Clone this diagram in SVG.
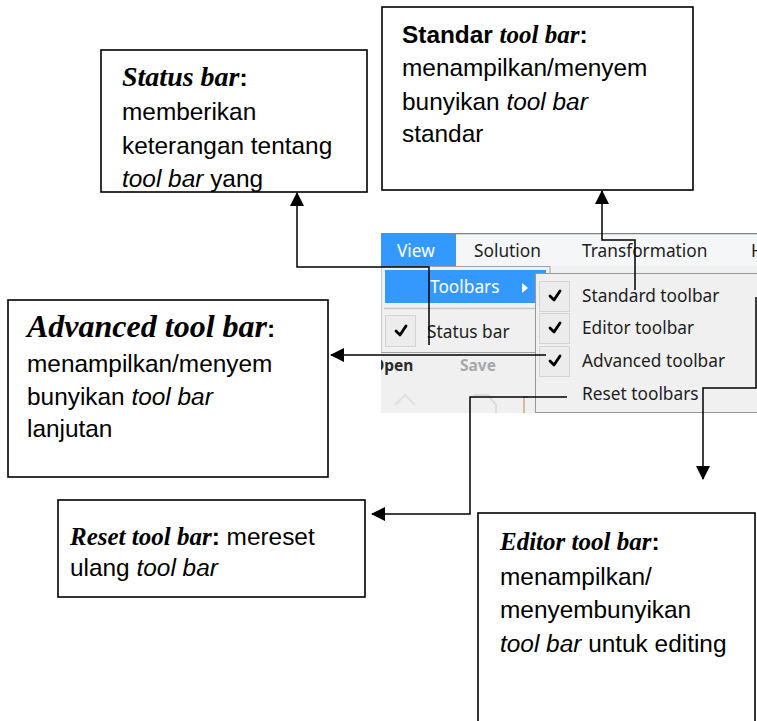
<svg xmlns="http://www.w3.org/2000/svg" width="757" height="721" viewBox="0 0 757 721">
<style>
.box{fill:#fff;stroke:#000;stroke-width:1.6}
.b{font-family:"Liberation Sans",Arial,sans-serif;font-size:24.4px;fill:#000}
.h{font-family:"Liberation Serif","Times New Roman",serif;font-weight:bold;font-style:italic}
.i{font-style:italic}
.bold{font-weight:bold}
.ui{font-family:"Noto Sans","Open Sans",sans-serif;font-size:17.3px;fill:#1e1e1e}
.chk{fill:#ececec;stroke:#d4d4d4;stroke-width:1}
.tick{fill:none;stroke:#000;stroke-width:2.8;stroke-linecap:round;stroke-linejoin:round}
.conn{fill:none;stroke:#000;stroke-width:1.5}
</style>
<defs>
<marker id="arr" viewBox="0 0 14 14" refX="13" refY="7" markerWidth="14" markerHeight="14" markerUnits="userSpaceOnUse" orient="auto">
<path d="M0,0 L14,7 L0,14 Z" fill="#000"/>
</marker>
<clipPath id="shot"><rect x="381" y="233" width="376" height="180"/></clipPath>
</defs>
<rect width="757" height="721" fill="#fff"/>

<g id="screenshot" clip-path="url(#shot)">
<rect x="381" y="233" width="376" height="180" fill="#f0f0f0"/>
<rect x="381" y="233" width="376" height="33" fill="#f5f6f7"/>
<line x1="381" y1="233.5" x2="757" y2="233.5" stroke="#7d8580" stroke-width="1.5"/>
<rect x="381" y="234" width="75" height="32" fill="#3399ff"/>
<text class="ui" x="397" y="257" style="fill:#fff">View</text>
<text class="ui" x="474" y="257">Solution</text>
<text class="ui" x="582" y="257">Transformation</text>
<text class="ui" x="751" y="257">H</text>
<rect x="381" y="266.5" width="169" height="86" fill="#f0f0f0" stroke="#a0a0a0" stroke-width="1"/>
<rect x="385" y="270" width="161" height="33" fill="#3399ff"/>
<text class="ui" x="430" y="293" style="fill:#fff">Toolbars</text>
<path d="M522,283 L528,288 L522,293 Z" fill="#fff"/>
<line x1="384" y1="308.5" x2="547" y2="308.5" stroke="#c8c8c8" stroke-width="1.5"/>
<rect class="chk" x="385.5" y="315.5" width="30" height="31"/>
<path class="tick" d="M396,331 L400,335 L406,326"/>
<text class="ui" x="427" y="338">Status bar</text>
<text class="ui" x="372" y="371" style="font-weight:bold;fill:#2a2a2a;font-size:15.5px">Open</text>
<text class="ui" x="460" y="371" style="font-weight:bold;fill:#a8a8a8;font-size:15.5px">Save</text>
<path d="M395,405 L405,395 L415,405" fill="none" stroke="#e0e0e0" stroke-width="2"/>
<path d="M473,395 L488,395 L496,405 L496,413" fill="none" stroke="#dcdcdc" stroke-width="2"/>
<path d="M528,397 L524,397 L524,413" fill="none" stroke="#d8b898" stroke-width="2"/>
<rect x="535.5" y="273.5" width="230" height="139" fill="#f0f0f0" stroke="#979797" stroke-width="1"/>
<rect class="chk" x="539.5" y="281.5" width="30" height="30"/>
<path class="tick" d="M550,296 L554,300 L560,291"/>
<rect class="chk" x="539.5" y="313.5" width="30" height="30"/>
<path class="tick" d="M550,328 L554,332 L560,323"/>
<rect class="chk" x="539.5" y="346.5" width="30" height="30"/>
<path class="tick" d="M550,361 L554,365 L560,356"/>
<text class="ui" x="582" y="302">Standard toolbar</text>
<text class="ui" x="582" y="334">Editor toolbar</text>
<text class="ui" x="582" y="367">Advanced toolbar</text>
<text class="ui" x="582" y="400">Reset toolbars</text>
</g>

<g id="status-box">
<rect class="box" x="101" y="50" width="266" height="142"/>
<text class="b" x="122" y="86"><tspan class="h" font-size="28">Status bar</tspan><tspan class="bold">:</tspan></text>
<text class="b" x="122" y="120">memberikan</text>
<text class="b" x="122" y="154">keterangan tentang</text>
<text class="b" x="122" y="187"><tspan class="i">tool bar</tspan> yang</text>
</g>

<g id="standar-box">
<rect class="box" x="382" y="7" width="311" height="183"/>
<text class="b" x="402" y="43"><tspan class="bold">Standar </tspan><tspan class="h" font-size="25">tool bar</tspan><tspan class="bold">:</tspan></text>
<text class="b" x="402" y="76">menampilkan/menyem</text>
<text class="b" x="402" y="110">bunyikan <tspan class="i">tool bar</tspan></text>
<text class="b" x="402" y="142">standar</text>
</g>

<g id="advanced-box">
<rect class="box" x="8" y="300" width="320" height="177"/>
<text class="b" x="27" y="337"><tspan class="h" font-size="32">Advanced tool bar</tspan><tspan class="bold">:</tspan></text>
<text class="b" x="27" y="372">menampilkan/menyem</text>
<text class="b" x="27" y="405">bunyikan <tspan class="i">tool bar</tspan></text>
<text class="b" x="27" y="437">lanjutan</text>
</g>

<g id="reset-box">
<rect class="box" x="58" y="500" width="307" height="97"/>
<text class="b" x="70" y="545"><tspan class="h" font-size="25">Reset tool bar</tspan><tspan class="bold">:</tspan> mereset</text>
<text class="b" x="70" y="576">ulang <tspan class="i">tool bar</tspan></text>
</g>

<g id="editor-box">
<rect class="box" x="478" y="513" width="277" height="240"/>
<text class="b" x="500" y="550"><tspan class="h" font-size="25">Editor tool bar</tspan><tspan class="bold">:</tspan></text>
<text class="b" x="500" y="585">menampilkan/</text>
<text class="b" x="500" y="618">menyembunyikan</text>
<text class="b" x="500" y="652"><tspan class="i">tool bar</tspan> untuk editing</text>
</g>

<g id="connectors">
<path class="conn" d="M429,345 L429,267 L297,267 L297,193" marker-end="url(#arr)"/>
<path class="conn" d="M635,290 L635,240 L602,240 L602,191" marker-end="url(#arr)"/>
<path class="conn" d="M546,355 L331,355" marker-end="url(#arr)"/>
<path class="conn" d="M567,397 L470,397 L470,514 L372,514" marker-end="url(#arr)"/>
<path class="conn" d="M756,297 L756,388 L703,388 L703,479" marker-end="url(#arr)"/>
</g>
</svg>
